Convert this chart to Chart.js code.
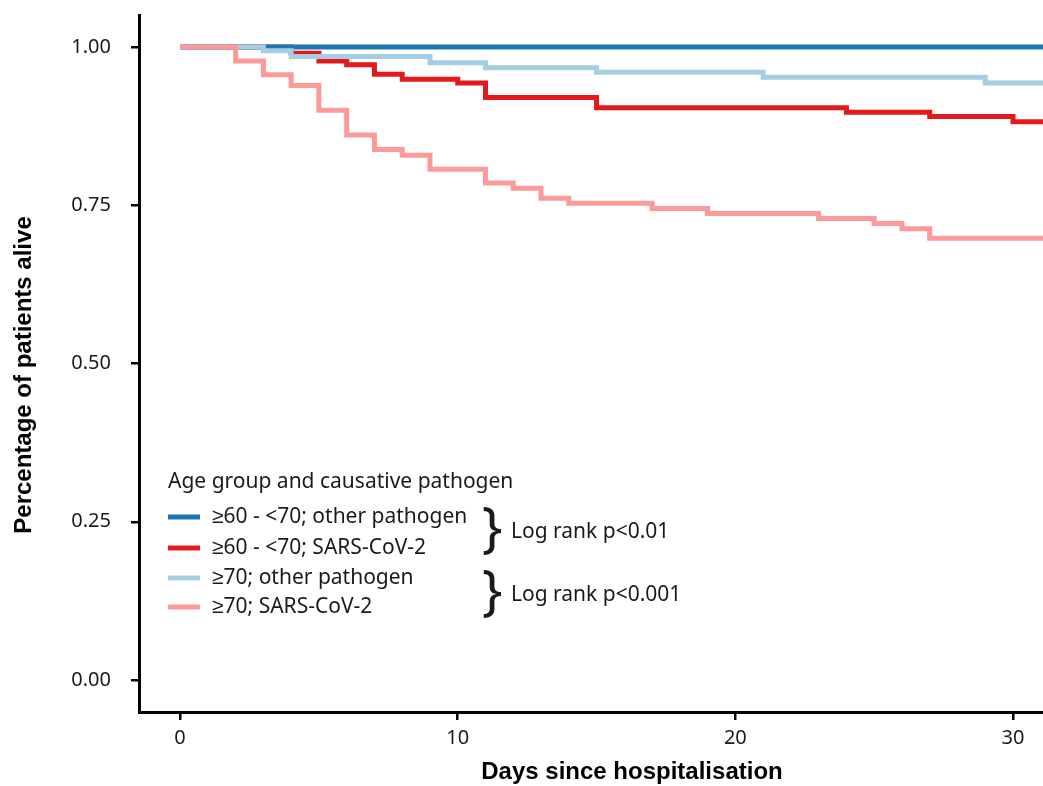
<!DOCTYPE html>
<html>
<head>
<meta charset="utf-8">
<script src="https://cdn.jsdelivr.net/npm/chart.js@4.4.1/dist/chart.umd.min.js"></script>
<style>
  html, body { margin: 0; padding: 0; background: #fff; }
  canvas { display: block; }
</style>
</head>
<body>
<canvas id="kmChart" width="1043" height="786"></canvas>
<script>
const seriesLabels = ["≥60 - <70; other pathogen", "≥60 - <70; SARS-CoV-2", "≥70; other pathogen", "≥70; SARS-CoV-2"];
const seriesColors = ["#1f78b4", "#e31a1c", "#a6cee3", "#fb9a99"];

// day of each step and the survival right after it
const daysYoungOther = [0, 32];
const survYoungOther = [1.0, 1.0];

const daysYoungCovid = [0, 4, 5, 6, 7, 8, 10, 11, 15, 24, 27, 30, 32];
const survYoungCovid = [1.0, 0.990, 0.978, 0.972, 0.957, 0.949, 0.943, 0.920, 0.904, 0.897, 0.890, 0.882, 0.882];

const daysOldOther = [0, 3, 4, 9, 11, 15, 21, 29, 32];
const survOldOther = [1.0, 0.994, 0.985, 0.975, 0.967, 0.960, 0.952, 0.943, 0.943];

const daysOldCovid = [0, 2, 3, 4, 5, 6, 7, 8, 9, 11, 12, 13, 14, 17, 19, 23, 25, 26, 27, 32];
const survOldCovid = [1.0, 0.978, 0.956, 0.939, 0.900, 0.861, 0.838, 0.829, 0.807, 0.785, 0.777, 0.761, 0.753, 0.745, 0.737, 0.729, 0.721, 0.713, 0.698, 0.698];

const xTicks = [0, 10, 20, 30];
const yTicks = [0, 0.25, 0.5, 0.75, 1.0];
const logRankLabels = ["Log rank p<0.01", "Log rank p<0.001"];

const TEXT = '#1a1a1a';
const FONT = '"Noto Sans", sans-serif';

function toPoints(days, surv) {
  return days.map((d, i) => ({ x: d, y: surv[i] }));
}

// legend, braces with the log rank results, axis titles
const extras = {
  id: 'extras',
  afterDraw(chart) {
    const c = chart.ctx;
    c.save();
    c.fillStyle = TEXT;
    c.textBaseline = 'middle';
    c.textAlign = 'left';
    c.font = '21px ' + FONT;
    c.fillText('Age group and causative pathogen', 168, 482);

    const rowY = [517, 548, 578, 607];
    seriesLabels.forEach((label, i) => {
      c.strokeStyle = seriesColors[i];
      c.lineWidth = 5;
      c.beginPath();
      c.moveTo(168, rowY[i]);
      c.lineTo(200, rowY[i]);
      c.stroke();
      c.fillText(label, 212, rowY[i]);
    });

    const braceY = [531, 594];
    braceY.forEach((y, i) => {
      c.font = '54px ' + FONT;
      c.fillText('}', 482, y);
      c.font = '21px ' + FONT;
      c.fillText(logRankLabels[i], 511, y + 1);
    });

    c.font = 'bold 24px "Liberation Sans", Arial, sans-serif';
    c.textBaseline = 'alphabetic';
    c.textAlign = 'center';
    c.fillStyle = '#000';
    c.fillText('Days since hospitalisation', 632, 779);

    c.translate(31, 375);
    c.rotate(-Math.PI / 2);
    c.fillText('Percentage of patients alive', 0, 0);
    c.restore();
  }
};

function renderChart() {
  const ctx = document.getElementById('kmChart').getContext('2d');
  const curves = [
    toPoints(daysYoungOther, survYoungOther),
    toPoints(daysYoungCovid, survYoungCovid),
    toPoints(daysOldOther, survOldOther),
    toPoints(daysOldCovid, survOldCovid)
  ];
  const drawOrder = [2, 3, 1, 0]; // lower = drawn on top

  const axisLine = { display: true, color: '#000', width: 3 };
  const tickMarks = { drawOnChartArea: false, drawTicks: true, tickLength: 8, color: '#000', tickColor: '#000', lineWidth: 2.5, tickWidth: 2.5 };

  new Chart(ctx, {
    type: 'line',
    data: {
      datasets: curves.map((pts, i) => ({
        label: seriesLabels[i],
        data: pts,
        borderColor: seriesColors[i],
        backgroundColor: seriesColors[i],
        borderWidth: 5,
        stepped: 'before',
        pointRadius: 0,
        fill: false,
        order: drawOrder[i]
      }))
    },
    options: {
      responsive: false,
      animation: false,
      layout: { padding: { top: 15, right: 0, bottom: 0, left: 0 } },
      plugins: {
        legend: { display: false },
        tooltip: { enabled: false }
      },
      scales: {
        x: {
          type: 'linear',
          min: -1.48,
          max: 31.08,
          afterBuildTicks: s => { s.ticks = xTicks.map(v => ({ value: v })); },
          afterFit: s => { s.height = 74; s.paddingLeft = 0; s.paddingRight = 0; },
          border: axisLine,
          grid: tickMarks,
          ticks: { color: TEXT, font: { family: FONT, size: 20 }, padding: 6, maxRotation: 0 }
        },
        y: {
          type: 'linear',
          min: -0.0505,
          max: 1.0505,
          afterBuildTicks: s => { s.ticks = yTicks.map(v => ({ value: v })); },
          afterFit: s => { s.width = 139; s.paddingTop = 0; s.paddingBottom = 0; },
          border: axisLine,
          grid: tickMarks,
          ticks: {
            color: TEXT,
            font: { family: FONT, size: 20 },
            padding: 20,
            callback: v => v.toFixed(2)
          }
        }
      }
    },
    plugins: [extras]
  });
}

document.addEventListener('DOMContentLoaded', renderChart);
</script>
</body>
</html>
